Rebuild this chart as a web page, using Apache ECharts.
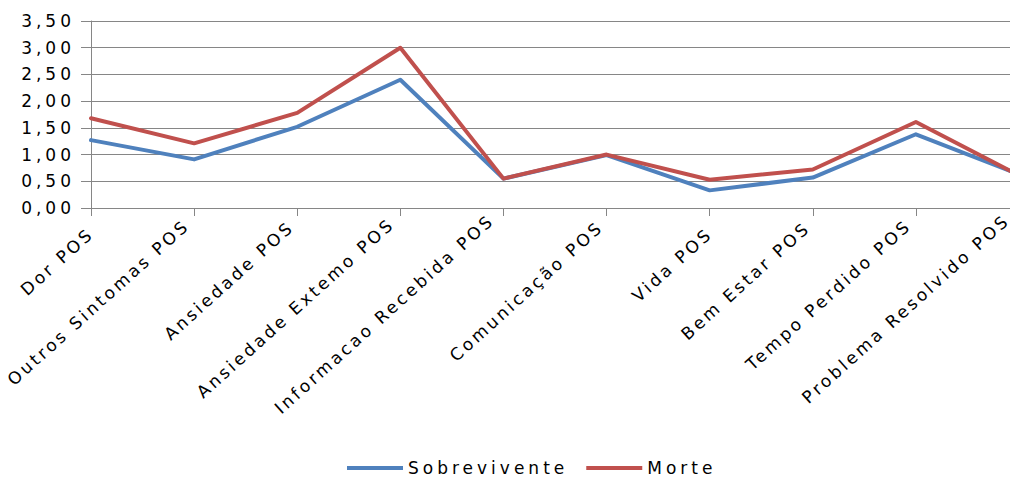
<!DOCTYPE html>
<html>
<head>
<meta charset="utf-8">
<script src="https://cdn.jsdelivr.net/npm/echarts@6/dist/echarts.min.js"></script>
<style>
  html, body { margin: 0; padding: 0; background: #fff; }
  #chart { width: 1010px; height: 477px; }
  /* wide, spaced lettering for the labels */
  #chart svg text { letter-spacing: 4px; }
  /* slanted category labels are set a little tighter */
  #chart svg text[transform^="matrix"] { letter-spacing: 3px; }
</style>
</head>
<body>
<div id="chart"></div>
<script>
const categories = [
  'Dor POS', 'Outros Sintomas POS', 'Ansiedade POS', 'Ansiedade Extemo POS',
  'Informacao Recebida POS', 'Comunicação POS', 'Vida POS', 'Bem Estar POS',
  'Tempo Perdido POS', 'Problema Resolvido POS'
];
const sobrevivente = [1.27, 0.91, 1.52, 2.40, 0.55, 0.99, 0.33, 0.57, 1.38, 0.63];
const morte        = [1.68, 1.21, 1.78, 3.00, 0.55, 1.00, 0.53, 0.72, 1.61, 0.61];
const yTickLabels  = ['0,00', '0,50', '1,00', '1,50', '2,00', '2,50', '3,00', '3,50'];

// how far each slanted label is lifted off the axis (px, perpendicular to the text)
const labelLift = [0, 11, 9, 13, 18, 9, 0, 8, 11, 18];

const FONT = 'DejaVu Sans';
const GRAY = '#868686';

// one rich style per label: bottom padding raises the text by half its size
const liftRich = {};
labelLift.forEach((s, i) => {
  liftRich['t' + i] = {
    fontFamily: FONT, fontSize: 17, color: '#000',
    padding: [0, 0, 2 * s, 0]
  };
});

const chart = echarts.init(document.getElementById('chart'), null, { renderer: 'svg' });
chart.setOption({
  animation: false,
  backgroundColor: '#ffffff',
  color: ['#4F81BD', '#C0504D'],
  textStyle: { fontFamily: FONT },
  grid: {
    left: 91, right: -9, top: 21, bottom: 269,
    outerBoundsMode: 'none', containLabel: false
  },
  legend: {
    data: ['Sobrevivente', 'Morte'],
    left: 347,
    top: 458,
    padding: 0,
    icon: 'rect',
    itemWidth: 56,
    itemHeight: 4,
    itemGap: 66,
    textStyle: { fontFamily: FONT, fontSize: 17, color: '#000', lineHeight: 20 }
  },
  xAxis: {
    type: 'category',
    data: categories,
    boundaryGap: false,
    axisLine: { lineStyle: { color: GRAY, width: 1 } },
    axisTick: { show: true, length: 8, alignWithLabel: true, lineStyle: { color: GRAY } },
    axisLabel: {
      interval: 0,
      rotate: 42,
      margin: 23,
      fontFamily: FONT,
      fontSize: 17,
      color: '#000',
      hideOverlap: false,
      formatter: (name, idx) => '{t' + idx + '|' + name + '}',
      rich: liftRich
    },
    splitLine: { show: false }
  },
  yAxis: {
    type: 'value',
    min: 0,
    max: 3.5,
    interval: 0.5,
    axisLine: { show: true, lineStyle: { color: GRAY, width: 1 } },
    axisTick: { show: true, length: 10, lineStyle: { color: GRAY } },
    axisLabel: {
      margin: 16,
      fontFamily: FONT,
      fontSize: 17,
      color: '#000',
      formatter: (v) => yTickLabels[Math.round(v / 0.5)]
    },
    splitLine: { show: true, lineStyle: { color: GRAY, width: 1 } }
  },
  series: [
    {
      name: 'Sobrevivente',
      type: 'line',
      data: sobrevivente,
      symbol: 'none',
      lineStyle: { width: 4, cap: 'round', join: 'round' }
    },
    {
      name: 'Morte',
      type: 'line',
      data: morte,
      symbol: 'none',
      lineStyle: { width: 4, cap: 'round', join: 'round' }
    }
  ]
});
</script>
</body>
</html>
